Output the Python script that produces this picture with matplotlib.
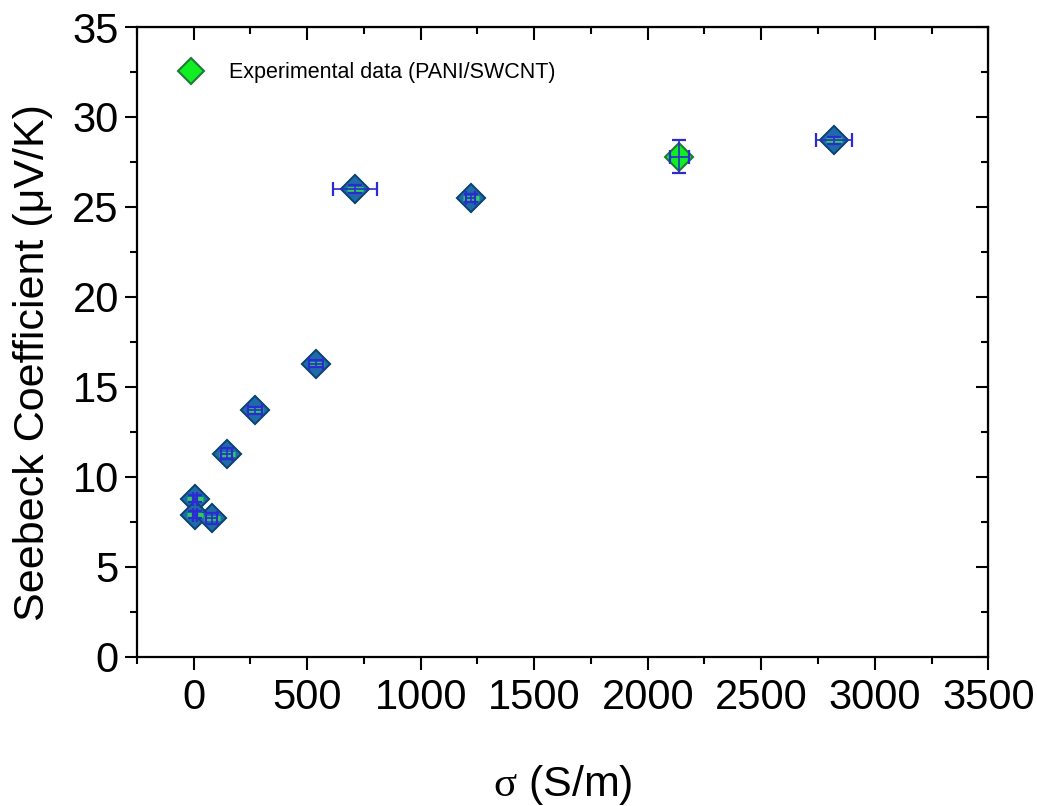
import matplotlib
matplotlib.use("Agg")
import matplotlib.pyplot as plt
from matplotlib.ticker import MultipleLocator
from matplotlib.lines import Line2D

plt.rcParams['font.family'] = ['Liberation Sans', 'DejaVu Sans']
plt.rcParams['mathtext.fontset'] = 'custom'
plt.rcParams['mathtext.rm'] = 'Liberation Serif'

# Electrical conductivity (S/m) and Seebeck coefficient (uV/K)
sigma = [5, 5, 80, 145, 270, 540, 710, 1220, 2140, 2820]
seebeck = [8.8, 7.9, 7.7, 11.3, 13.7, 16.3, 26.0, 25.5, 27.8, 28.7]
sigma_err = [10, 10, 25, 25, 30, 30, 97, 20, 40, 80]
seebeck_err = [0.2, 0.2, 0.3, 0.3, 0.2, 0.2, 0.2, 0.2, 0.9, 0.2]
# points whose marker is mostly covered by the error-bar drawing
covered = [True, True, True, True, True, True, True, True, False, True]

x_ticks = [0, 500, 1000, 1500, 2000, 2500, 3000, 3500]
y_ticks = [0, 5, 10, 15, 20, 25, 30, 35]

fig = plt.figure(figsize=(10.37, 8.06), dpi=100)
ax = fig.add_axes([0.132, 0.185, 0.821, 0.7815])

green = '#11ee22'
green_edge = '#1f7a3a'
blue = '#2b2bd0'
steel = '#1f6aa8'
ms = 14

ax.plot(sigma, seebeck, linestyle='none', marker='D', ms=ms,
        markerfacecolor=green, markeredgecolor=green_edge, markeredgewidth=1.5,
        zorder=3)

cx = [s for s, c in zip(sigma, covered) if c]
cy = [v for v, c in zip(seebeck, covered) if c]
ax.plot(cx, cy, linestyle='none', marker='D', ms=ms,
        markerfacecolor=steel, markeredgecolor='#0d3f7a', markeredgewidth=1.2,
        zorder=4)
ax.plot(cx, cy, linestyle='none', marker='_', ms=ms * 0.8, mew=3.5,
        color='#2fcf5a', zorder=5)

ax.errorbar(sigma, seebeck, xerr=sigma_err, yerr=seebeck_err, fmt='none',
            ecolor=blue, elinewidth=1.2, capsize=5, capthick=1.6, zorder=6)

ax.set_xlim(-250, 3500)
ax.set_ylim(0, 35)
ax.set_xticks(x_ticks)
ax.set_yticks(y_ticks)
ax.xaxis.set_minor_locator(MultipleLocator(250))
ax.yaxis.set_minor_locator(MultipleLocator(2.5))

ax.tick_params(axis='both', which='both', direction='out', labelsize=30,
               width=1.5, color='black', top=False, right=False)
ax.tick_params(which='major', length=9)
ax.tick_params(which='minor', length=5)
ax.tick_params(axis='y', pad=4)
ax.tick_params(axis='x', pad=6)
for sp in ax.spines.values():
    sp.set_linewidth(1.6)

# mirrored inward ticks on top and right
axt = ax.secondary_xaxis('top')
axt.set_xticks(x_ticks)
axt.xaxis.set_minor_locator(MultipleLocator(250))
axt.tick_params(which='both', direction='in', labeltop=False, width=1.5)
axt.tick_params(which='major', length=9)
axt.tick_params(which='minor', length=5)
axr = ax.secondary_yaxis('right')
axr.set_yticks(y_ticks)
axr.yaxis.set_minor_locator(MultipleLocator(2.5))
axr.tick_params(which='both', direction='in', labelright=False, width=1.5)
axr.tick_params(which='major', length=9)
axr.tick_params(which='minor', length=5)

ax.set_xlabel(r'$\mathrm{\sigma}$ (S/m)', fontsize=31)
ax.xaxis.set_label_coords(0.5, -0.168)
ax.set_ylabel('Seebeck Coefficient (μV/K)', fontsize=31)
ax.yaxis.set_label_coords(-0.098, 0.468)

handle = Line2D([], [], linestyle='none', marker='D', ms=13,
                markerfacecolor=green, markeredgecolor=green_edge,
                markeredgewidth=1.5)
ax.legend([handle], ['Experimental data (PANI/SWCNT)'], loc='upper left',
          frameon=False, fontsize=15.5, handletextpad=0.8,
          bbox_to_anchor=(0.015, 0.975))

fig.savefig('out.png', dpi=100)
